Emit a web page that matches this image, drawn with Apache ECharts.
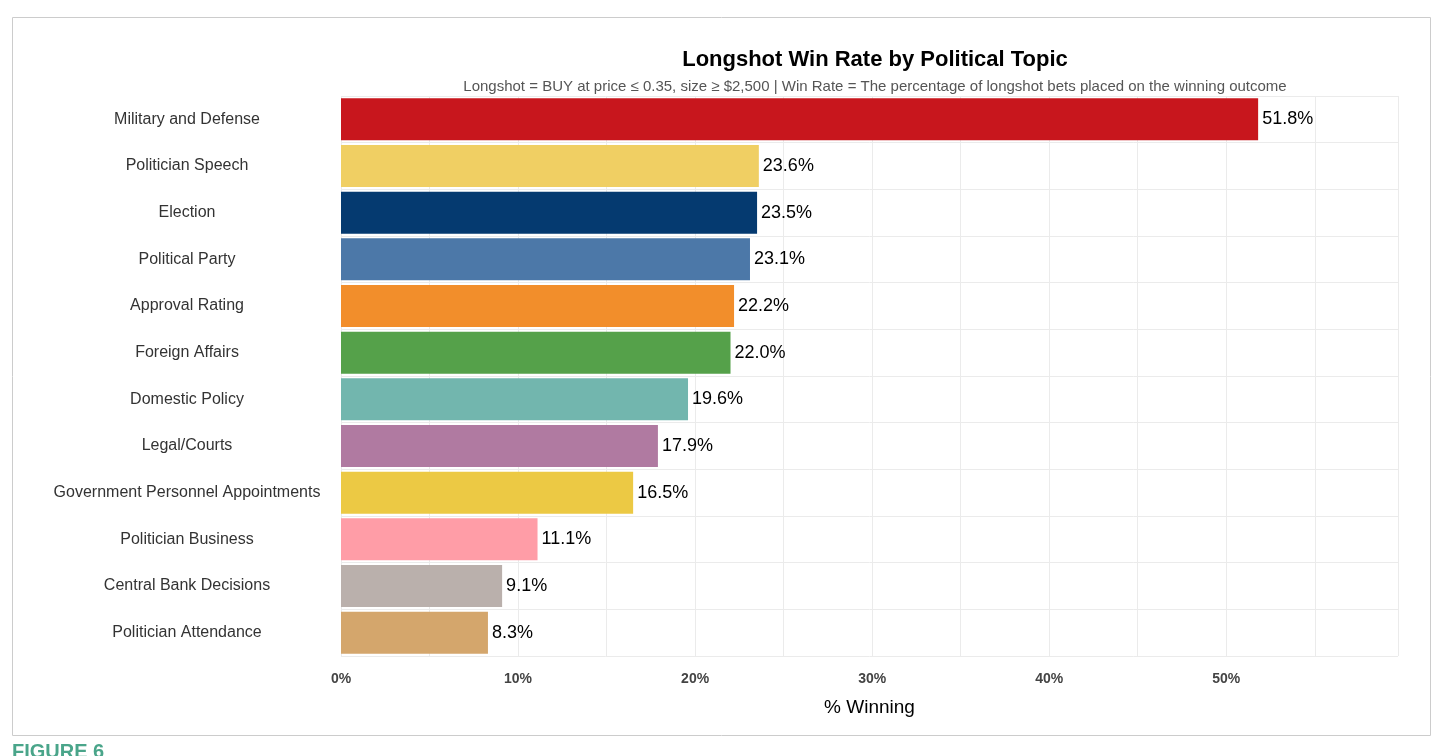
<!DOCTYPE html>
<html><head><meta charset="utf-8">
<script src="https://cdn.jsdelivr.net/npm/echarts@6/dist/echarts.min.js"></script>
<style>html,body{margin:0;padding:0;background:#fff}#c{width:1448px;height:756px}</style>
</head><body><div id="c"></div>
<script>
const categories = ["Military and Defense","Politician Speech","Election","Political Party","Approval Rating","Foreign Affairs","Domestic Policy","Legal/Courts","Government Personnel Appointments","Politician Business","Central Bank Decisions","Politician Attendance"];
const values = [51.8,23.6,23.5,23.1,22.2,22.0,19.6,17.9,16.5,11.1,9.1,8.3];
const colors = ["#C8161D","#F0CF63","#053A70","#4C78A8","#F28E2B","#55A14A","#72B6AE","#B07AA1","#ECC944","#FF9DA7","#BAB0AC","#D4A66C"];
const chart = echarts.init(document.getElementById('c'));
chart.setOption({
  animation:false,
  title:{text:"Longshot Win Rate by Political Topic",left:870,top:44,textAlign:'center',
    textStyle:{fontFamily:'Liberation Sans',fontSize:22,fontWeight:'bold',color:'#000'},
    subtext:"Longshot = BUY at price \u2264 0.35, size \u2265 $2,500 | Win Rate = The percentage of longshot bets placed on the winning outcome",
    itemGap:8,subtextStyle:{fontFamily:'Liberation Sans',fontSize:15,color:'#555'}},
  graphic:[
    {type:'rect',shape:{x:12.5,y:17.5,width:1418,height:718},style:{fill:'none',stroke:'#ccc',lineWidth:1}},
    {type:'text',left:12,top:742,style:{text:'FIGURE 6',fill:'#4aa58a',font:'bold 20px Liberation Sans'}}
  ],
  grid:{left:341,right:50,top:96,bottom:100},
  xAxis:{type:'value',min:0,max:59.7,interval:5,
    axisLine:{show:false},axisTick:{show:false},
    axisLabel:{fontFamily:'Liberation Sans',fontSize:14,fontWeight:'bold',color:'#444',margin:16,
      formatter:v=>(Math.round(v)%10===0?Math.round(v)+'%':''),showMaxLabel:false},
    splitLine:{lineStyle:{color:'#ebebeb'}},
    name:'% Winning',nameLocation:'middle',nameGap:42,
    nameTextStyle:{fontFamily:'Liberation Sans',fontSize:19,color:'#000'}},
  yAxis:{type:'category',data:categories,inverse:true,
    axisLine:{show:false},axisTick:{show:false},
    splitLine:{show:true,lineStyle:{color:'#ebebeb'}},
    axisLabel:{align:'center',margin:154,fontFamily:'Liberation Sans',fontSize:16,color:'#333',interval:0}},
  series:[{type:'bar',data:values.map((v,i)=>({value:v,itemStyle:{color:colors[i]}})),
    barCategoryGap:'10%',
    label:{show:true,position:'right',distance:4,formatter:p=>p.value.toFixed(1)+'%',
      fontFamily:'Liberation Sans',fontSize:18,color:'#000'}}]
});
</script></body></html>
